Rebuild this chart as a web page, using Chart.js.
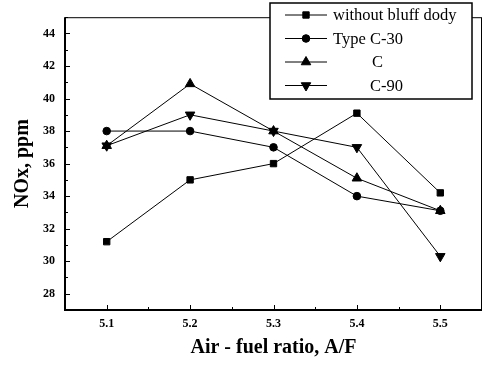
<!DOCTYPE html>
<html>
<head>
<meta charset="utf-8">
<script src="https://cdn.jsdelivr.net/npm/chart.js@4/dist/chart.umd.min.js"></script>
<style>
  html, body { margin: 0; padding: 0; background: #fff; }
  #wrap { width: 484px; height: 365px; position: relative; }
</style>
</head>
<body>
<div id="wrap"><canvas id="chart"></canvas></div>
<script>
// ===== data =====
const AF_RATIO = [5.1, 5.2, 5.3, 5.4, 5.5];
const NO_BLUFF = [31.2, 35.0, 36.0, 39.1, 34.2];
const TYPE_C30 = [38.0, 38.0, 37.0, 34.0, 33.1];
const TYPE_C   = [37.1, 40.9, 38.0, 35.1, 33.1];
const TYPE_C90 = [37.1, 39.0, 38.0, 37.0, 30.3];
const SERIES_NAMES = ["without bluff dody", "Type C-30", "C", "C-90"];
const X_TICKS = [5.1, 5.2, 5.3, 5.4, 5.5];
const Y_TICKS = [28, 30, 32, 34, 36, 38, 40, 42, 44];

const SERIF = "'Liberation Serif', 'DejaVu Serif', serif";

function series(values, shape, radius, rotation) {
  return {
    data: values.map((v, i) => ({ x: AF_RATIO[i], y: v })),
    borderColor: "#000",
    backgroundColor: "#000",
    borderWidth: 1,
    pointStyle: shape,
    pointRadius: radius,
    pointRotation: rotation || 0,
    pointBorderWidth: 1,
    tension: 0
  };
}

// 边框 + 向内的刻度
const axisDecor = {
  id: "axisDecor",
  afterDraw(chart) {
    const { ctx, chartArea: a, scales } = chart;
    ctx.save();
    ctx.strokeStyle = "#000";
    ctx.lineWidth = 1;
    ctx.strokeRect(a.left + 0.5, a.top + 0.5, a.right - a.left - 1, a.bottom - a.top - 1);
    ctx.lineWidth = 2;
    ctx.beginPath();
    ctx.moveTo(a.left, a.top); ctx.lineTo(a.left, a.bottom); ctx.lineTo(a.right, a.bottom);
    ctx.stroke();
    ctx.lineWidth = 1;
    ctx.beginPath();
    for (let v = 27; v <= 45; v += 1) {
      const y = Math.round(scales.y.getPixelForValue(v)) + 0.5;
      const len = v % 2 === 0 ? 5 : 3;
      ctx.moveTo(a.left, y); ctx.lineTo(a.left + len, y);
    }
    for (let k = 0; k < 9; k++) {
      const v = 5.1 + k * 0.05;
      const x = Math.round(scales.x.getPixelForValue(v)) + 0.5;
      const len = k % 2 === 0 ? 5 : 3;
      ctx.moveTo(x, a.bottom); ctx.lineTo(x, a.bottom - len);
    }
    ctx.stroke();
    ctx.restore();
  }
};

// 图例框
const boxLegend = {
  id: "boxLegend",
  afterDraw(chart, args, opts) {
    const { ctx } = chart;
    ctx.save();
    ctx.fillStyle = "#fff";
    ctx.fillRect(opts.x, opts.y, opts.w, opts.h);
    ctx.strokeStyle = "#000";
    ctx.lineWidth = 1.5;
    ctx.strokeRect(opts.x, opts.y, opts.w, opts.h);
    ctx.font = "16.5px " + SERIF;
    ctx.textBaseline = "middle";
    ctx.fillStyle = "#000";
    chart.data.datasets.forEach((ds, i) => {
      const y = opts.y + opts.firstRow + i * opts.rowGap;
      ctx.lineWidth = 1;
      ctx.beginPath();
      ctx.moveTo(opts.x + 15, y); ctx.lineTo(opts.x + 57, y);
      ctx.stroke();
      Chart.helpers.drawPoint(ctx, {
        pointStyle: ds.pointStyle, radius: ds.pointRadius, rotation: ds.pointRotation, borderWidth: 1
      }, opts.x + 36, y);
      ctx.fillText(SERIES_NAMES[i], opts.x + opts.textX[i], y + 1);
    });
    ctx.restore();
  }
};

new Chart(document.getElementById("chart"), {
  type: "line",
  data: {
    datasets: [
      series(NO_BLUFF, "rect", 4.5),
      series(TYPE_C30, "circle", 3.8),
      series(TYPE_C, "triangle", 5.5),
      series(TYPE_C90, "triangle", 5.5, 180)
    ]
  },
  options: {
    responsive: true,
    maintainAspectRatio: false,
    animation: false,
    layout: { autoPadding: false, padding: { top: 2, right: 2, left: 0, bottom: 0 } },
    plugins: {
      legend: { display: false },
      tooltip: { enabled: false },
      boxLegend: { x: 270, y: 3, w: 202, h: 96, firstRow: 12, rowGap: 23.5, textX: [63, 63, 102, 100] }
    },
    scales: {
      x: {
        type: "linear",
        min: 5.05, max: 5.55,
        afterFit: (s) => { s.height = 55; },
        afterBuildTicks: (s) => { s.ticks = X_TICKS.map((v) => ({ value: v })); },
        grid: { display: false, drawTicks: false },
        border: { display: false },
        ticks: {
          color: "#000", padding: 7,
          font: { family: SERIF, size: 12, weight: "bold" },
          callback: (v) => v.toFixed(1)
        },
        title: {
          display: true, text: "Air - fuel ratio, A/F", color: "#000",
          font: { family: SERIF, size: 20, weight: "bold" },
          padding: { top: 0, bottom: 5 }
        }
      },
      y: {
        min: 27, max: 45,
        afterFit: (s) => { s.width = 65; },
        afterBuildTicks: (s) => { s.ticks = Y_TICKS.map((v) => ({ value: v })); },
        grid: { display: false, drawTicks: false },
        border: { display: false },
        ticks: {
          color: "#000", padding: 10,
          font: { family: SERIF, size: 12, weight: "bold" }
        },
        title: {
          display: true, text: "NOx, ppm", color: "#000",
          font: { family: SERIF, size: 20, weight: "bold" },
          padding: { top: 11, bottom: 0 }
        }
      }
    }
  },
  plugins: [axisDecor, boxLegend]
});
</script>
</body>
</html>
